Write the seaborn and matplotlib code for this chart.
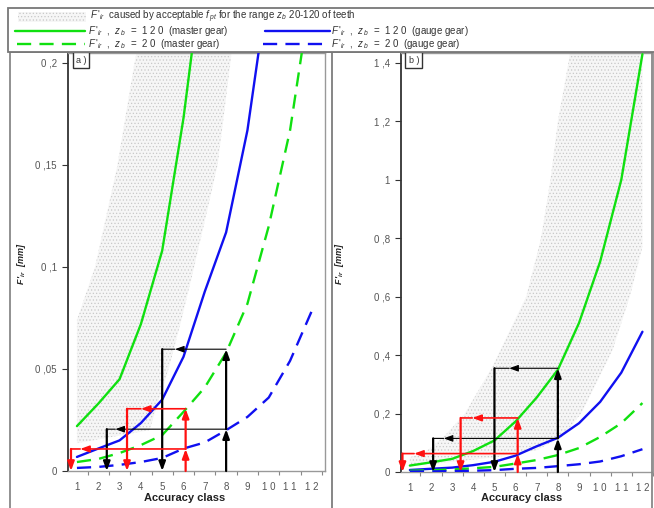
import numpy as np
import pandas as pd
import seaborn as sns
import matplotlib.pyplot as plt
from matplotlib.patches import Rectangle

#%%  data
classes = np.arange(1, 13)
master_z120 = [0.022, 0.033, 0.045, 0.072, 0.108, 0.173, 0.255, 0.35, 0.51, 0.72, 1.0, 1.43]
gauge_z120 = [0.0069, 0.011, 0.015, 0.0235, 0.035, 0.056, 0.088, 0.117, 0.167, 0.24, 0.34, 0.48]
master_z20 = [0.0044, 0.0059, 0.0088, 0.0127, 0.0176, 0.029, 0.041, 0.058, 0.082, 0.12, 0.167, 0.236]
gauge_z20 = [0.0015, 0.002, 0.003, 0.0044, 0.0064, 0.011, 0.014, 0.020, 0.0265, 0.036, 0.054, 0.078]

# shaded band (F'ir for z 20-120): value levels and class limits at each level
band_a_y = [0.0137, 0.02, 0.05, 0.074, 0.1, 0.15, 0.2, 0.21]
band_a_left = [1.0, 1.0, 1.0, 1.0, 1.85, 2.9, 3.7, 3.9]
band_a_right = [1.05, 4.4, 5.3, 5.9, 6.5, 7.6, 8.2, 8.3]
band_b_y = [0.02, 0.05, 0.075, 0.12, 0.2, 0.36, 0.42, 0.6, 0.77, 0.8, 1.0, 1.2, 1.4, 1.45]
band_b_left = [1.0, 1.0, 1.85, 2.6, 3.6, 4.9, 5.3, 6.5, 7.1, 7.2, 7.65, 8.0, 8.5, 8.6]
band_b_right = [1.0, 5.0, 7.0, 8.2, 9.1, 10.2, 10.6, 11.4, 12.0, 12.0, 12.0, 12.0, 12.0, 12.0]

# reading paths: (class, value, arrow head at this point)
read_a_black1 = [(8, 0, 0), (8, 0.0205, 1), (8, 0.0597, 1), (5.6, 0.0597, 1), (5, 0.0597, 0), (5, 0, 1)]
read_a_black2 = [(8, 0.0205, 0), (2.8, 0.0205, 1), (2.4, 0.0205, 0), (2.4, 0, 1)]
read_a_red1 = [(6.1, 0, 0), (6.1, 0.0108, 1), (6.1, 0.0305, 1), (4.0, 0.0305, 1), (3.35, 0.0305, 0), (3.35, 0, 1)]
read_a_red2 = [(6.1, 0.0108, 0), (1.15, 0.0108, 1), (0.72, 0.0108, 0), (0.72, 0, 1)]
read_b_black1 = [(8, 0, 0), (8, 0.115, 1), (8, 0.355, 1), (5.7, 0.355, 1), (5, 0.355, 0), (5, 0, 1)]
read_b_black2 = [(8, 0.115, 0), (2.6, 0.115, 1), (2.1, 0.115, 0), (2.1, 0, 1)]
read_b_red1 = [(6.1, 0, 0), (6.1, 0.063, 1), (6.1, 0.185, 1), (3.95, 0.185, 1), (3.4, 0.185, 0), (3.4, 0, 1)]
read_b_red2 = [(6.1, 0.063, 0), (1.2, 0.063, 1), (0.65, 0.063, 0), (0.65, 0, 1)]

xtick_labels = ["1", "2", "3", "4", "5", "6", "7", "8", "9", "1 0", "1 1", "1 2"]
ytick_a = [0, 0.05, 0.1, 0.15, 0.2]
ytick_a_labels = ["0", "0 ,05", "0 ,1", "0 ,15", "0 ,2"]
ytick_b = [0, 0.2, 0.4, 0.6, 0.8, 1.0, 1.2, 1.4]
ytick_b_labels = ["0", "0 ,2", "0 ,4", "0 ,6", "0 ,8", "1", "1 ,2", "1 ,4"]

#%%  style
sns.set_style("white")
plt.rcParams['font.family'] = ['Liberation Sans', 'DejaVu Sans']
plt.rcParams['mathtext.fontset'] = 'custom'
plt.rcParams['mathtext.rm'] = 'Liberation Sans'
plt.rcParams['mathtext.it'] = 'Liberation Sans:italic'
plt.rcParams['mathtext.bf'] = 'Liberation Sans:bold:italic'
plt.rcParams['hatch.linewidth'] = 0.5

GREEN = '#10e010'
BLUE = '#1010f0'
RED = '#ff1010'
DASH = (0, (6, 3.5))
LW = 1.7
BAND_FC, BAND_EC = '#f6f6f6', '#c8c8c8'
W, H = 654, 508

df = pd.DataFrame({'cls': classes, 'm120': master_z120, 'g120': gauge_z120,
                   'm20': master_z20, 'g20': gauge_z20})

fig = plt.figure(figsize=(W / 100, H / 100), dpi=100)


def px_axes(x0, y0, x1, y1):
    return fig.add_axes([x0 / W, 1 - y1 / H, (x1 - x0) / W, (y1 - y0) / H])


def draw_path(ax, pts, color, lw_v, lw_h):
    for p, q in zip(pts[:-1], pts[1:]):
        lw = lw_v if p[0] == q[0] else lw_h
        style = '-|>,head_length=0.6,head_width=0.22' if q[2] else '-'
        ax.annotate('', xy=(q[0], q[1]), xytext=(p[0], p[1]),
                    arrowprops=dict(arrowstyle=style, color=color, lw=lw,
                                    shrinkA=0, shrinkB=0, mutation_scale=9),
                    zorder=4)


def panel(ax, band_y, band_l, band_r, ylim, yticks, ylabels, paths, tag, xmax):
    ax.fill_betweenx(band_y, band_l, band_r, facecolor=BAND_FC, edgecolor=BAND_EC,
                     hatch='.....', linewidth=0, zorder=1)
    sns.lineplot(data=df, x='cls', y='m120', ax=ax, color=GREEN, lw=LW, zorder=3)
    sns.lineplot(data=df, x='cls', y='g120', ax=ax, color=BLUE, lw=LW, zorder=3)
    sns.lineplot(data=df, x='cls', y='m20', ax=ax, color=GREEN, lw=LW, linestyle=DASH, zorder=3)
    sns.lineplot(data=df, x='cls', y='g20', ax=ax, color=BLUE, lw=LW, linestyle=DASH, zorder=3)
    for pts, col, lv, lh in paths:
        draw_path(ax, pts, col, lv, lh)
    ax.set_xlim(0.58, xmax)
    ax.set_ylim(*ylim)
    ax.set_xticks(np.arange(1.5, 12.6, 1))
    ax.set_xticklabels([])
    ax.set_xticks(classes, minor=True)
    ax.set_xticklabels(xtick_labels, minor=True)
    ax.tick_params(axis='x', which='major', length=3, color='#888', direction='out')
    ax.tick_params(axis='x', which='minor', length=0, pad=8, labelsize=7, labelcolor='#555')
    ax.set_yticks(yticks)
    ax.set_yticklabels(ylabels)
    ax.tick_params(axis='y', length=4, color='#333', direction='out', pad=4,
                   labelsize=7, labelcolor='#555')
    ax.tick_params(bottom=True, left=True, which='both')
    ax.set_xlabel('')
    ax.set_ylabel('')
    for s in ['top', 'right', 'bottom']:
        ax.spines[s].set_color('#999')
        ax.spines[s].set_linewidth(1.0)
    ax.spines['left'].set_color('#333')
    ax.spines['left'].set_linewidth(1.3)
    ax.text(0.03, 0.994, tag, transform=ax.transAxes, fontsize=6.5, ha='left', va='top',
            color='#333', bbox=dict(boxstyle='square,pad=0.35', fc='white', ec='#333', lw=1.0),
            zorder=6)


axL = px_axes(68, 53, 325, 471)
panel(axL, band_a_y, band_a_left, band_a_right, (0, 0.2049), ytick_a, ytick_a_labels,
      [(read_a_black1, 'black', 1.6, 0.8), (read_a_black2, 'black', 1.6, 0.8),
       (read_a_red1, RED, 1.6, 1.2), (read_a_red2, RED, 1.6, 1.2)], 'a )', 12.64)

axR = px_axes(401, 53, 653, 472)
panel(axR, band_b_y, band_b_left, band_b_right, (0, 1.434), ytick_b, ytick_b_labels,
      [(read_b_black1, 'black', 1.6, 0.8), (read_b_black2, 'black', 1.6, 0.8),
       (read_b_red1, RED, 1.6, 1.2), (read_b_red2, RED, 1.6, 1.2)], 'b )', 12.47)

#%%  overlay: frames, axis titles and legend (pixel coordinates)
ov = fig.add_axes([0, 0, 1, 1], zorder=10)
ov.set_xlim(0, W)
ov.set_ylim(H, 0)
ov.axis('off')
ov.patch.set_alpha(0)

ov.add_patch(Rectangle((10, 52), 322, 470, fill=False, ec='#888', lw=1.3))
ov.add_patch(Rectangle((332, 52), 320, 470, fill=False, ec='#888', lw=1.3))

for xc in (185, 522):
    ov.text(xc, 498, 'Accuracy class', fontsize=8, fontweight='bold', ha='center',
            va='center', color='#222')
for xc in (21, 339):
    ov.text(xc, 264, r"$\mathbf{F\,'_{ir}}$  [mm]", fontsize=6.5, fontweight='bold',
            style='italic', rotation=90, ha='center', va='center', color='#222')

ov.add_patch(Rectangle((8, 8), 660, 44, fc='white', ec='#777', lw=1.3, zorder=1))
ov.add_patch(Rectangle((18, 12), 68, 10, facecolor=BAND_FC, edgecolor=BAND_EC,
                       hatch='.....', lw=0, zorder=2))
ov.plot([15, 85], [31, 31], color=GREEN, lw=LW, zorder=2)
ov.plot([17, 85], [44, 44], color=GREEN, lw=LW, linestyle=DASH, zorder=2)
ov.plot([265, 330], [31, 31], color=BLUE, lw=LW, zorder=2)
ov.plot([263, 330], [44, 44], color=BLUE, lw=LW, linestyle=DASH, zorder=2)

fp = dict(fontsize=7, ha='left', va='center', color='#333', zorder=3)
ov.text(90, 17, r"$F\,'_{ir}$  caused by acceptable $f_{\,pt}$ for the range $z_{\,b}$ 20-120 of teeth", **fp)
ov.text(88, 31, r"$F\,'_{ir}$  ,  $z_{\,b}$  =  1 2 0  (master gear)", **fp)
ov.text(88, 44, r"$F\,'_{ir}$  ,  $z_{\,b}$  =  2 0  (master gear)", **fp)
ov.text(331, 31, r"$F\,'_{ir}$  ,  $z_{\,b}$  =  1 2 0  (gauge gear)", **fp)
ov.text(331, 44, r"$F\,'_{ir}$  ,  $z_{\,b}$  =  2 0  (gauge gear)", **fp)

fig.savefig('out.png', dpi=100)
